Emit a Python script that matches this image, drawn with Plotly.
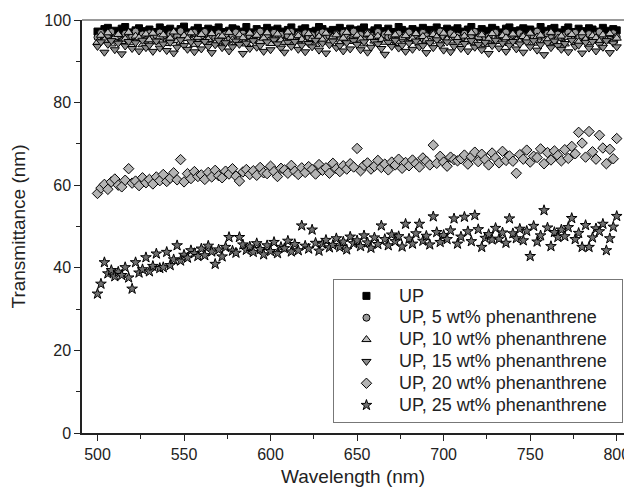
import plotly.graph_objects as go

wavelength = list(range(500, 801, 2))

up = [97.2, 96.5, 97.8, 98.1, 96.9, 97.4, 96.2, 97.9, 98.3, 97.0, 96.6, 97.5, 98.0, 96.8, 97.3,
      97.7, 96.4, 97.1, 98.2, 97.6, 96.7, 97.9, 97.2, 96.3, 97.8, 98.4, 97.0, 96.9, 97.5, 98.1,
      96.6, 97.3, 97.9, 96.8, 97.6, 98.2, 97.1, 96.5, 97.4, 98.0, 97.7, 96.9, 97.2, 98.3, 97.0,
      96.4, 97.8, 97.3, 96.7, 98.1, 97.5, 96.8, 97.9, 97.2, 96.6, 97.6, 98.2, 97.0, 96.9, 97.7,
      98.0, 97.1, 96.5, 97.4, 98.3, 97.8, 96.9, 97.2, 97.6, 96.7, 98.1, 97.3, 96.8, 97.9, 97.5,
      96.6, 97.7, 98.2, 97.0, 96.4, 97.5, 98.0, 97.3, 96.8, 97.9, 97.1, 96.7, 98.3, 97.6, 97.2,
      96.9, 97.8, 97.4, 96.5, 98.1, 97.0, 97.6, 96.8, 98.2, 97.3, 96.6, 97.9, 97.5, 96.9, 98.0,
      97.2, 96.7, 97.7, 98.3, 97.1, 96.4, 97.8, 97.4, 96.9, 98.1, 97.6, 97.0, 96.6, 97.9, 98.2,
      97.3, 96.8, 97.5, 98.0, 96.5, 97.7, 97.2, 96.9, 98.3, 97.4, 96.7, 97.8, 98.1, 97.0, 96.6,
      97.6, 98.2, 97.1, 96.8, 97.9, 97.3, 96.5, 98.0, 97.7, 97.2, 96.9, 98.1, 97.4, 96.7, 97.8,
      97.5]

up_5 = [95.8, 96.9, 95.2, 96.4, 97.1, 95.6, 96.2, 94.9, 96.7, 95.4, 96.0, 97.2, 95.7, 96.5, 95.1,
        96.8, 95.5, 96.3, 97.0, 95.9, 94.8, 96.6, 95.3, 96.1, 97.3, 95.8, 96.4, 95.0, 96.9, 95.6,
        96.2, 97.1, 95.4, 96.0, 95.7, 96.8, 94.9, 96.5, 95.2, 96.3, 97.0, 95.5, 96.7, 95.9, 96.1,
        95.3, 96.6, 97.2, 95.8, 96.0, 95.1, 96.9, 95.6, 96.4, 94.8, 96.2, 97.1, 95.7, 96.5, 95.4,
        96.8, 95.9, 96.3, 95.0, 96.7, 97.0, 95.5, 96.1, 95.8, 96.6, 95.2, 96.9, 96.0, 95.4, 97.2,
        95.7, 96.4, 95.1, 96.8, 96.2, 95.6, 97.1, 95.3, 96.5, 95.9, 96.0, 94.9, 96.7, 95.5, 96.3,
        97.0, 95.8, 96.4, 95.2, 96.9, 96.1, 95.4, 96.6, 95.7, 97.2, 96.0, 95.3, 96.8, 95.9, 96.2,
        95.5, 96.7, 95.0, 96.3, 97.1, 95.8, 96.5, 95.6, 96.0, 94.8, 96.9, 95.4, 96.2, 97.0, 95.7,
        96.4, 95.2, 96.8, 96.1, 95.5, 96.6, 95.9, 97.2, 95.3, 96.0, 96.7, 95.6, 94.9, 96.5, 95.8,
        96.3, 97.0, 95.4, 96.9, 95.7, 96.2, 95.1, 96.6, 95.8, 96.4, 97.1, 95.5, 96.0, 95.2, 96.8,
        95.9]

up_10 = [94.6, 96.3, 95.1, 96.9, 94.2, 95.8, 96.5, 94.8, 95.4, 97.0, 94.5, 96.1, 95.7, 94.0, 96.6,
         95.2, 96.8, 94.7, 95.9, 96.4, 94.3, 95.6, 97.1, 95.0, 94.6, 96.2, 95.5, 96.9, 94.1, 95.8,
         96.5, 94.9, 95.3, 96.7, 94.4, 95.9, 96.1, 94.7, 97.0, 95.2, 94.5, 96.4, 95.7, 94.2, 96.8,
         95.0, 96.3, 94.8, 95.6, 96.9, 94.3, 95.4, 96.6, 95.1, 94.6, 97.1, 95.8, 94.9, 96.2, 95.3,
         94.5, 96.7, 95.5, 94.1, 96.0, 95.2, 96.8, 94.7, 95.9, 96.4, 94.4, 95.6, 97.0, 95.0, 94.8,
         96.3, 95.4, 94.2, 96.6, 95.8, 94.9, 96.1, 95.3, 94.6, 96.9, 95.0, 96.4, 94.3, 95.7, 96.2,
         94.8, 95.5, 96.7, 94.4, 96.0, 95.1, 94.7, 96.5, 95.9, 94.2, 96.8, 95.3, 94.9, 96.3, 95.6,
         94.5, 96.1, 95.2, 96.9, 94.6, 95.8, 96.4, 94.1, 95.4, 96.7, 95.0, 94.8, 96.2, 95.7, 94.3,
         96.6, 95.1, 94.7, 96.0, 95.5, 96.8, 94.4, 95.9, 96.3, 94.9, 95.2, 97.0, 94.6, 95.6, 96.1,
         94.2, 95.8, 96.5, 95.0, 94.7, 96.9, 95.3, 94.5, 96.2, 95.7, 94.8, 96.4, 95.1, 96.7, 94.9,
         95.6]

up_15 = [93.6, 94.7, 92.2, 94.1, 95.0, 92.8, 94.4, 91.8, 93.7, 94.8, 93.1, 94.5, 92.5, 95.1, 93.3,
         93.9, 92.4, 94.9, 93.2, 94.2, 92.6, 94.6, 92.0, 93.4, 95.2, 93.8, 92.9, 94.7, 92.3, 94.3,
         93.0, 94.8, 93.6, 92.1, 94.0, 95.1, 93.3, 94.5, 92.5, 93.5, 94.9, 94.1, 91.9, 94.4, 93.1,
         95.0, 93.4, 93.8, 92.4, 94.7, 92.8, 95.2, 94.2, 93.2, 92.2, 94.6, 93.6, 94.8, 92.9, 93.9,
         92.3, 94.3, 93.5, 95.1, 92.7, 94.4, 92.0, 94.0, 94.9, 93.3, 93.8, 92.5, 94.5, 93.0, 95.0,
         94.1, 92.8, 94.7, 92.2, 93.4, 94.8, 94.2, 93.1, 91.7, 94.6, 93.6, 95.1, 93.2, 93.9, 92.4,
         94.4, 92.9, 94.9, 93.5, 93.8, 92.1, 94.5, 93.3, 95.2, 94.0, 92.7, 94.7, 92.3, 93.6, 94.8,
         93.1, 94.3, 92.5, 95.0, 93.4, 94.1, 92.8, 94.6, 91.9, 93.8, 95.1, 93.2, 94.4, 92.4, 93.9,
         94.8, 93.0, 94.2, 92.2, 94.7, 93.5, 95.0, 92.7, 94.0, 91.6, 94.5, 93.3, 94.9, 93.8, 92.9,
         94.3, 92.3, 95.1, 93.6, 93.9, 92.0, 94.6, 93.2, 94.8, 92.5, 94.1, 93.4, 95.0, 92.1, 94.4,
         93.5]

up_20 = [58.0, 59.3, 60.2, 59.0, 60.8, 61.5, 60.0, 59.6, 61.2, 64.0, 60.5, 61.0, 59.9, 61.8, 60.6,
         61.4, 60.3, 62.0, 61.1, 62.6, 60.9, 61.7, 63.0, 61.3, 66.2, 60.8, 62.8, 61.6, 63.3, 62.1,
         62.5, 61.4, 63.1, 62.0, 63.6, 62.3, 61.8, 63.4, 62.7, 64.0, 62.2, 61.0, 63.2, 63.8, 62.6,
         63.5, 62.4, 64.3, 63.0, 62.8, 64.6, 63.3, 62.1, 64.1, 63.7, 62.9, 64.8, 63.4, 62.6, 64.2,
         63.1, 64.5, 63.8, 62.7, 65.0, 63.6, 64.2, 62.9, 65.3, 64.0, 63.3, 64.7, 63.9, 65.2, 64.4,
         68.9, 63.5, 64.8, 65.4, 63.9, 64.6, 66.0, 64.3, 65.1, 63.7, 65.6, 64.9, 66.3, 64.1, 65.5,
         64.7, 66.1, 65.2, 64.4, 66.6, 65.8, 64.9, 69.7, 65.3, 67.0, 65.6, 64.6, 66.8, 66.2, 65.9,
         66.4, 67.3, 65.1, 66.9, 68.0, 65.7, 67.5, 66.2, 64.9, 67.8, 66.6, 65.4, 68.2, 66.0, 67.1,
         65.8, 62.9, 67.4, 66.3, 68.5, 65.6, 67.0, 66.7, 68.8, 65.2, 67.9, 66.1, 68.3, 67.2, 65.9,
         68.6, 66.5, 69.4, 67.6, 72.8, 70.2, 66.8, 73.0, 68.1, 66.3, 72.1, 69.0, 65.2, 68.7, 66.4,
         71.3]

up_25 = [33.7, 36.1, 41.3, 38.6, 39.4, 37.9, 39.0, 38.2, 40.1, 37.6, 34.9, 41.3, 38.8, 39.6, 42.5,
         39.1, 40.4, 43.4, 39.9, 40.1, 43.8, 40.6, 42.0, 45.4, 41.7, 43.1, 42.4, 44.2, 43.5, 42.8,
         44.6, 43.0, 45.3, 43.9, 40.9, 44.4, 42.7, 45.0, 47.4, 44.1, 43.6, 47.4, 45.6, 44.3, 45.1,
         43.8, 45.9, 44.5, 43.2, 45.4, 44.0, 46.2, 43.5, 45.0, 44.7, 46.5, 43.9, 45.7, 44.2, 50.2,
         45.3, 44.6, 49.2, 46.0, 44.1, 45.8, 46.7, 44.9, 45.5, 47.1, 45.0, 46.3, 44.4, 47.5, 45.9,
         46.6, 45.2, 47.8, 46.1, 44.8, 47.3, 45.7, 50.2, 46.9, 45.4, 48.0, 46.4, 47.6, 45.1, 50.6,
         47.0, 45.8, 48.3, 50.6, 46.5, 47.7, 45.6, 52.4, 48.6, 46.2, 47.9, 46.9, 49.0, 51.9, 45.8,
         47.5, 52.3, 48.8, 46.4, 52.7, 49.3, 45.0, 47.2, 48.1, 46.8, 49.6, 47.0, 48.5, 46.0, 51.9,
         48.3, 47.1, 49.4, 46.6, 48.9, 42.8, 50.1, 46.3, 47.8, 53.9, 49.7, 45.2, 48.6, 47.4, 49.2,
         47.6, 49.8, 52.0, 46.9, 48.4, 45.0, 50.3, 45.0, 47.3, 49.5, 48.8, 50.6, 44.2, 47.1, 49.9,
         52.5]

series_names = ["UP", "UP, 5 wt% phenanthrene", "UP, 10 wt% phenanthrene",
                "UP, 15 wt% phenanthrene", "UP, 20 wt% phenanthrene", "UP, 25 wt% phenanthrene"]
series_values = [up, up_5, up_10, up_15, up_20, up_25]

styles = [
    dict(symbol="square", size=7, color="#000000", line=dict(color="#000000", width=1)),
    dict(symbol="circle", size=7, color="#9a9a9a", line=dict(color="#000000", width=1)),
    dict(symbol="triangle-up", size=8, color="#bdbdbd", line=dict(color="#000000", width=1)),
    dict(symbol="triangle-down", size=8, color="#8c8c8c", line=dict(color="#000000", width=1)),
    dict(symbol="diamond", size=8, color="#b4b4b4", line=dict(color="#000000", width=1)),
    dict(symbol="star", size=8, color="#707070", line=dict(color="#000000", width=1)),
]

font_family = "Arial, Liberation Sans, sans-serif"

fig = go.Figure()
for name, vals, st in zip(series_names, series_values, styles):
    fig.add_trace(go.Scatter(
        x=wavelength, y=vals, mode="markers",
        name='<span style="font-size:18px">' + name + '&nbsp;&nbsp;</span>',
        hovertemplate=name + ": %{x}, %{y}<extra></extra>",
        marker=st))

fig.update_layout(
    width=624, height=493,
    margin=dict(l=82, r=0, t=20, b=60),
    paper_bgcolor="white", plot_bgcolor="white",
    font=dict(family=font_family, color="#222222", size=16),
    showlegend=True,
    legend=dict(x=0.463, y=0.373, xanchor="left", yanchor="top",
                bordercolor="#777777", borderwidth=1, bgcolor="white",
                font=dict(size=14.5, family=font_family, color="#222222"),
                itemwidth=55, tracegroupgap=0),
    shapes=[dict(type="line", xref="paper", yref="paper", x0=0, x1=1, y0=1, y1=1,
                 line=dict(color="#777777", width=1.5))],
    xaxis=dict(range=[491.05, 804.2], showgrid=False, zeroline=False, automargin=False,
               showline=True, linecolor="#222222", linewidth=1.5, mirror=False,
               ticks="outside", ticklen=6, tickwidth=1.2, tickcolor="#222222",
               dtick=50, tick0=500, ticklabeloverflow="allow",
               minor=dict(ticks="outside", ticklen=4, dtick=25, tickcolor="#222222"),
               tickfont=dict(size=16),
               title=dict(text="Wavelength (nm)", font=dict(size=19), standoff=8)),
    yaxis=dict(range=[0, 100], showgrid=False, zeroline=False, automargin=False,
               showline=True, linecolor="#222222", linewidth=1.5, mirror=False,
               ticks="outside", ticklen=6, tickwidth=1.2, tickcolor="#222222",
               dtick=20, tick0=0,
               minor=dict(ticks="outside", ticklen=4, dtick=10, tickcolor="#222222"),
               tickfont=dict(size=16),
               title=dict(text="Transmittance (nm)", font=dict(size=19), standoff=14)),
)

fig.write_html("out.html")
